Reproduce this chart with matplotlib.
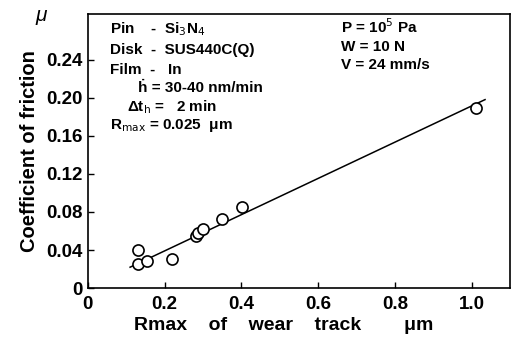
import matplotlib
matplotlib.use("Agg")
import matplotlib.pyplot as plt

plt.rcParams['font.family'] = ['Liberation Sans', 'DejaVu Sans']

rmax = [0.131, 0.131, 0.154, 0.218, 0.281, 0.288, 0.301, 0.349, 0.402, 1.012]
mu = [0.040, 0.025, 0.028, 0.031, 0.055, 0.058, 0.062, 0.073, 0.085, 0.189]
fit_x = [0.11, 1.035]
fit_y = [0.022, 0.198]
xticks = [0, 0.2, 0.4, 0.6, 0.8, 1.0]
xticklabels = ['0', '0.2', '0.4', '0.6', '0.8', '1.0']
yticks = [0, 0.04, 0.08, 0.12, 0.16, 0.20, 0.24]
yticklabels = ['0', '0.04', '0.08', '0.12', '0.16', '0.20', '0.24']

fig = plt.figure(figsize=(5.11, 3.48), dpi=100)
ax = fig.add_axes([0.172, 0.172, 0.826, 0.788])
ax.plot(fit_x, fit_y, color='black', lw=1.1)
ax.plot(rmax, mu, 'o', mfc='white', mec='black', ms=8, mew=1.2)
ax.set_xlim(0, 1.1)
ax.set_ylim(0, 0.288)
ax.set_xticks(xticks)
ax.set_xticklabels(xticklabels)
ax.set_yticks(yticks)
ax.set_yticklabels(yticklabels)
ax.tick_params(direction='in', length=4, width=1, labelsize=13.5, pad=4)
ax.tick_params(axis='x', pad=6)
for lbl in ax.get_xticklabels() + ax.get_yticklabels():
    lbl.set_fontweight('bold')
for s in ax.spines.values():
    s.set_linewidth(1.2)

ax.set_ylabel('Coefficient of friction', fontsize=14.5, fontweight='bold', labelpad=5)
fig.text(0.08, 0.955, 'μ', fontsize=15, style='italic', ha='center', va='center')
fig.text(0.555, 0.065, 'Rmax    of    wear    track        μm', fontsize=14,
         fontweight='bold', ha='center', va='center')

kw = dict(transform=fig.transFigure, fontsize=11, fontweight='bold', va='center')
fig.text(0.215, 0.915, 'Pin    -  Si$_3$N$_4$', **kw)
fig.text(0.215, 0.857, 'Disk  -  SUS440C(Q)', **kw)
fig.text(0.215, 0.800, 'Film  -   In', **kw)
fig.text(0.27, 0.747, 'ḣ = 30-40 nm/min', **kw)
fig.text(0.248, 0.693, 'Δt$_\\mathrm{h}$ =   2 min', **kw)
fig.text(0.215, 0.640, 'R$_\\mathrm{max}$ = 0.025  μm', **kw)
fig.text(0.668, 0.922, 'P = 10$^5$ Pa', **kw)
fig.text(0.668, 0.866, 'W = 10 N', **kw)
fig.text(0.668, 0.813, 'V = 24 mm/s', **kw)

fig.savefig('out.png', dpi=100)
